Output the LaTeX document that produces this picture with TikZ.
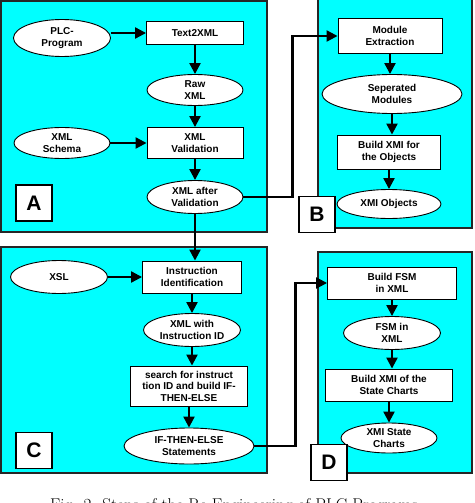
\documentclass[tikz,border=0pt]{standalone}
\usepackage{fontspec}
\usetikzlibrary{shapes.geometric,arrows.meta}
\newfontfamily\diagFont{Liberation Sans}
\definecolor{panelCyan}{RGB}{0,255,255}
\newcommand{\stepBox}[5]{%
  \node[boxStyle,minimum width=#3,minimum height=#4] (#1) at (#2) {#5};
}
\newcommand{\dataOval}[5]{%
  \node[ovalStyle,minimum width=#3,minimum height=#4] (#1) at (#2) {#5};
}

\begin{document}
\begin{tikzpicture}[x=1pt,y=-1pt,%
  panelStyle/.style={draw=black!85,line width=1.1pt,fill=panelCyan},%
  boxStyle/.style={draw,line width=0.9pt,fill=white,align=center,inner sep=1pt,font={\diagFont\bfseries\fontsize{10}{11.5}\selectfont}},%
  ovalStyle/.style={ellipse,draw,line width=0.9pt,fill=white,align=center,inner sep=0pt,font={\diagFont\bfseries\fontsize{10}{11.5}\selectfont}},%
  labelStyle/.style={draw,line width=1.1pt,fill=white,minimum size=36pt,inner sep=0pt,font={\diagFont\bfseries\fontsize{21}{24}\selectfont}},%
  flowStyle/.style={-{Triangle[length=11pt,width=11pt]},line width=2.2pt}%
]
%
\useasboundingbox[fill=white] (0,0) rectangle (474,503);
%
% The four panels.
\draw[panelStyle] (1,1) rectangle (267,232);
\draw[panelStyle] (318,-3) rectangle (472,228);
\draw[panelStyle] (1,247) rectangle (267,473);
\draw[panelStyle] (318,252) rectangle (472,473);
%
% Panel A.
\dataOval{plc}{62,38}{97}{37}{PLC-\\Program}
\stepBox{textXml}{195,33}{97}{23}{Text2XML}
\dataOval{rawXml}{195,90}{96}{31}{Raw\\XML}
\dataOval{schema}{62,143}{96}{31}{XML\\Schema}
\stepBox{validation}{195,143}{96}{31}{XML\\Validation}
\dataOval{afterValid}{195,197}{96}{33}{XML after\\Validation}
\node[labelStyle] (labelA) at (34,203) {A};
%
% Panel B.
\stepBox{modExtract}{390,36}{104}{35}{Module\\Extraction}
\dataOval{sepModules}{392,94}{140}{39}{Seperated\\Modules}
\stepBox{buildObj}{389,152}{103}{34}{Build XMI for\\the Objects}
\dataOval{xmiObj}{389,204}{104}{29}{XMI Objects}
\node[labelStyle] (labelB) at (317,214.5) {B};
%
% Panel C.
\dataOval{xsl}{59,277}{97}{33}{XSL}
\stepBox{instrId}{192,277}{99}{32}{Instruction\\Identification}
\dataOval{xmlId}{192,330}{97}{33}{XML with\\Instruction ID}
\stepBox{search}{189,386}{117}{40}{search for instruct\\tion ID and build IF-\\THEN-ELSE}
\dataOval{ifThen}{189,446}{130}{36}{IF-THEN-ELSE\\Statements}
\node[labelStyle] (labelC) at (34,450.5) {C};
%
% Panel D.
\stepBox{buildFsm}{392,283}{129}{32}{Build FSM\\in XML}
\dataOval{fsmXml}{392,333}{97}{33}{FSM in\\XML}
\stepBox{buildChart}{389,385}{127}{32}{Build XMI of the\\State Charts}
\dataOval{xmiChart}{389,438}{96}{30}{XMI State\\Charts}
\node[labelStyle] (labelD) at (329,462.5) {D};
%
% Flow inside the panels.
\draw[flowStyle] (plc.east |- textXml) -- (textXml.west);
\draw[flowStyle] (textXml.south) -- (rawXml.north);
\draw[flowStyle] (rawXml.south) -- (validation.north);
\draw[flowStyle] (schema.east) -- (validation.west);
\draw[flowStyle] (validation.south) -- (afterValid.north);
\draw[flowStyle] (modExtract.south) -- (modExtract.south |- sepModules.north);
\draw[flowStyle] (sepModules.south) -- (sepModules.south |- buildObj.north);
\draw[flowStyle] (buildObj.south) -- (xmiObj.north);
\draw[flowStyle] (xsl.east) -- (instrId.west);
\draw[flowStyle] (instrId.south) -- (xmlId.north);
\draw[flowStyle] (xmlId.south) -- (xmlId.south |- search.north);
\draw[flowStyle] (search.south) -- (ifThen.north);
\draw[flowStyle] (buildFsm.south) -- (fsmXml.north);
\draw[flowStyle] (fsmXml.south) -- (fsmXml.south |- buildChart.north);
\draw[flowStyle] (buildChart.south) -- (xmiChart.north);
%
% Flow between the panels.
\draw[flowStyle] (afterValid.east) -- ++(49,0) |- (modExtract.west);
\draw[flowStyle] (afterValid.south) -- (afterValid.south |- instrId.north);
\draw[flowStyle] (ifThen.east) -- ++(41,0) |- (buildFsm.west);
%
% Caption, cut by the lower edge as in the source.
\node[anchor=base west,inner sep=0pt,font=\fontsize{17}{20}\selectfont] (caption) at (50,510) {Fig. 2. Steps of the Re-Engineering of PLC Programs};
\end{tikzpicture}
\end{document}
